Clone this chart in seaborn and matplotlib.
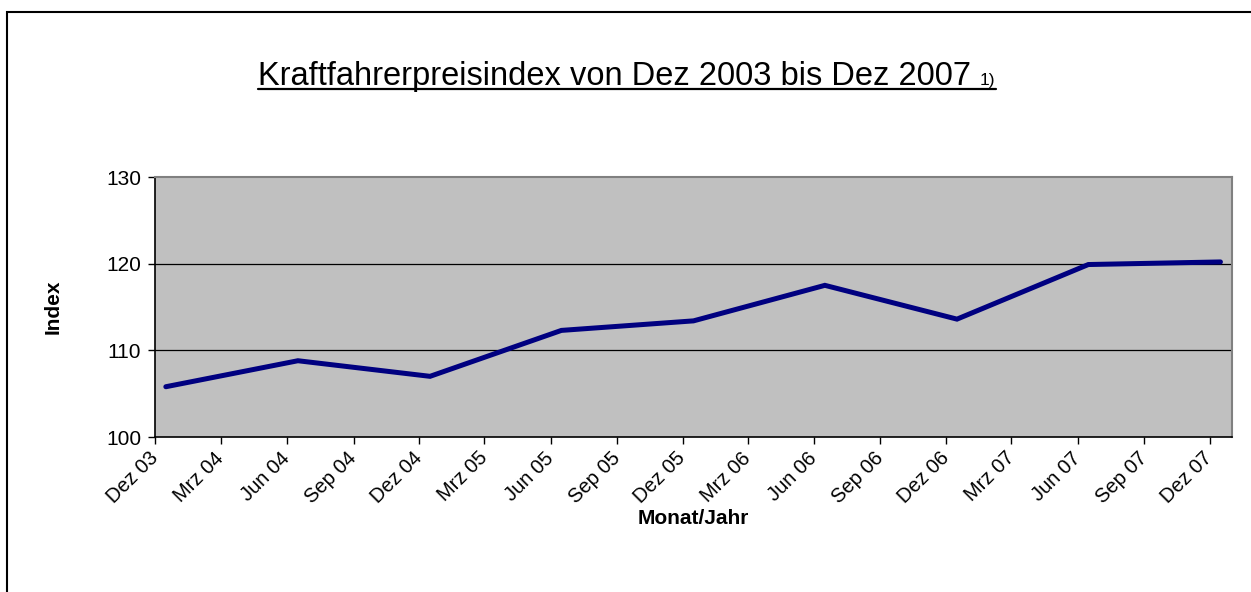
import matplotlib
matplotlib.use("Agg")
import matplotlib.pyplot as plt
import numpy as np
import pandas as pd
import seaborn as sns
from matplotlib.lines import Line2D
from matplotlib.patches import Rectangle

# Daten
monate = ["2003-12", "2004-06", "2004-12", "2005-06", "2005-12",
          "2006-06", "2006-12", "2007-06", "2007-12"]
index_werte = [105.8, 108.8, 107.0, 112.3, 113.4, 117.5, 113.6, 119.9, 120.2]
monat_kurz = {3: "Mrz", 6: "Jun", 9: "Sep", 12: "Dez"}
y_ticks = [100, 110, 120, 130]

titel = "Kraftfahrerpreisindex von Dez 2003 bis Dez 2007"
fussnote = "1)"

# Excel-Datumsachse: jeder Wert sitzt in der Mitte seines Monats
datum = pd.to_datetime(monate) + pd.Timedelta(days=15)
df = pd.DataFrame({"Datum": datum, "Index": index_werte})

sns.set_style("white")
plt.rcParams["font.family"] = ["Liberation Sans", "DejaVu Sans"]
plt.rcParams["text.color"] = "black"
plt.rcParams["axes.labelcolor"] = "black"
plt.rcParams["xtick.color"] = "black"
plt.rcParams["ytick.color"] = "black"

fig = plt.figure(figsize=(12.51, 5.92), dpi=100)
W, H = 1251, 592
ax = fig.add_axes([155 / W, 1 - 437 / H, (1232 - 155) / W, (437 - 177) / H])
ax.set_facecolor("#C0C0C0")

sns.lineplot(data=df, x="Datum", y="Index", ax=ax, color="#000080",
             linewidth=3.6, solid_capstyle="round", solid_joinstyle="miter")

ax.set_ylim(100, 130)
ax.set_yticks(y_ticks)
ax.set_xlim(pd.Timestamp("2003-12-01"), pd.Timestamp("2008-01-01"))
tick_dates = pd.date_range("2003-12-01", "2007-12-01", freq="3MS")
ax.set_xticks(tick_dates)
ax.set_xticklabels([f"{monat_kurz[d.month]} {d.year % 100:02d}" for d in tick_dates],
                   rotation=45, ha="right", va="center", rotation_mode="anchor",
                   fontsize=14.5)
ax.tick_params(axis="x", length=5, width=1, color="black", pad=8, direction="out",
               bottom=True)
ax.tick_params(axis="y", length=5, width=1, color="black", pad=5, direction="out",
               left=True, labelsize=15)

ax.grid(False)
for v in y_ticks[1:-1]:
    ax.axhline(v, color="black", linewidth=0.9, zorder=1)

for side in ["top", "right"]:
    ax.spines[side].set_visible(True)
    ax.spines[side].set_color("#808080")
    ax.spines[side].set_linewidth(1.5)
for side in ["left", "bottom"]:
    ax.spines[side].set_color("black")
    ax.spines[side].set_linewidth(1.2)

ax.set_xlabel("Monat/Jahr", fontsize=15, fontweight="bold")
ax.set_ylabel("Index", fontsize=15, fontweight="bold")
ax.xaxis.set_label_coords(0.5, (437 - 509) / (437 - 177), transform=ax.transAxes)
ax.yaxis.set_label_coords((63 - 155) / (1232 - 155), 0.5, transform=ax.transAxes)

# Titel mit Unterstreichung und Fussnote
t = fig.text(258 / W, 1 - 85 / H, titel, fontsize=23.5, ha="left", va="baseline")
fig.canvas.draw()
r = fig.canvas.get_renderer()
bb = t.get_window_extent(r)
f = fig.text((bb.x1 + 9) / W, 1 - 85 / H, fussnote, fontsize=12.5, ha="left", va="baseline")
fig.canvas.draw()
bb2 = f.get_window_extent(r)
uy = 1 - 89 / H
fig.add_artist(Line2D([bb.x0 / W, bb2.x1 / W], [uy, uy], color="black", linewidth=1.6))

# Diagrammrahmen
fig.add_artist(Rectangle((7 / W, -0.05), 1.1, 1 - 12 / H + 0.05, transform=fig.transFigure,
                         fill=False, edgecolor="black", linewidth=1.5))

fig.savefig("out.png", dpi=100)
